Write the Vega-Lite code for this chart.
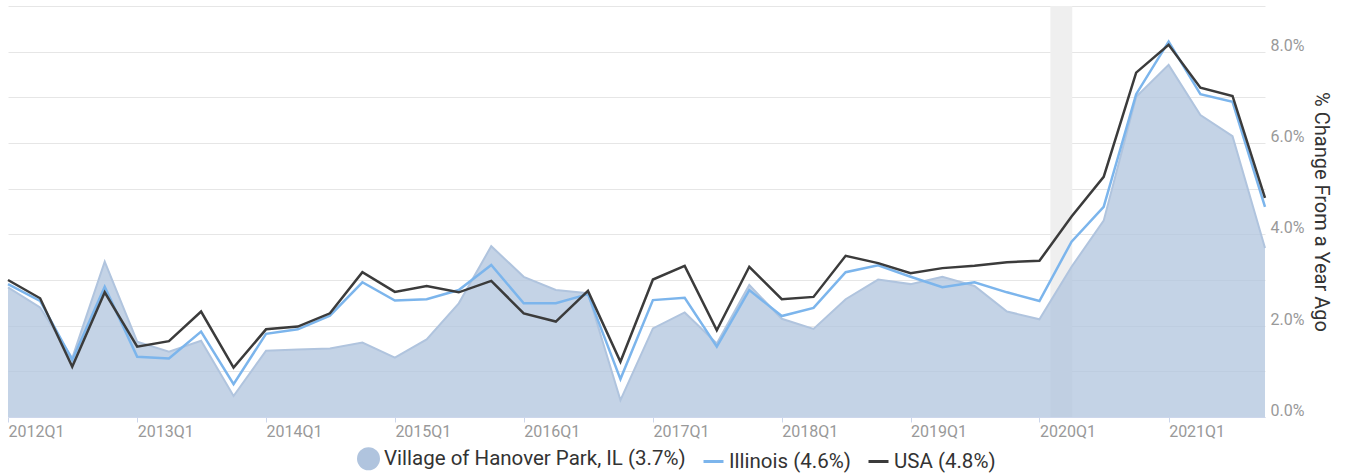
{
  "$schema": "https://vega.github.io/schema/vega-lite/v6.json",
  "width": 1257,
  "height": 411,
  "autosize": {"type": "none"},
  "padding": {"left": 8, "top": 6, "right": 83, "bottom": 56},
  "background": "white",
  "config": {"view": {"stroke": null}, "font": "Roboto"},
  "datasets": {
    "main": [
      {"date": "2012-01-01", "Village": 2.84, "Illinois": 2.91, "USA": 3.00},
      {"date": "2012-04-01", "Village": 2.40, "Illinois": 2.54, "USA": 2.60},
      {"date": "2012-07-01", "Village": 1.29, "Illinois": 1.25, "USA": 1.10},
      {"date": "2012-10-01", "Village": 3.40, "Illinois": 2.85, "USA": 2.73},
      {"date": "2013-01-01", "Village": 1.65, "Illinois": 1.32, "USA": 1.54},
      {"date": "2013-04-01", "Village": 1.43, "Illinois": 1.28, "USA": 1.66},
      {"date": "2013-07-01", "Village": 1.67, "Illinois": 1.87, "USA": 2.31},
      {"date": "2013-10-01", "Village": 0.46, "Illinois": 0.72, "USA": 1.08},
      {"date": "2014-01-01", "Village": 1.45, "Illinois": 1.82, "USA": 1.92},
      {"date": "2014-04-01", "Village": 1.48, "Illinois": 1.92, "USA": 1.98},
      {"date": "2014-07-01", "Village": 1.50, "Illinois": 2.22, "USA": 2.27},
      {"date": "2014-10-01", "Village": 1.63, "Illinois": 2.95, "USA": 3.17},
      {"date": "2015-01-01", "Village": 1.30, "Illinois": 2.55, "USA": 2.74},
      {"date": "2015-04-01", "Village": 1.70, "Illinois": 2.58, "USA": 2.87},
      {"date": "2015-07-01", "Village": 2.49, "Illinois": 2.78, "USA": 2.73},
      {"date": "2015-10-01", "Village": 3.74, "Illinois": 3.33, "USA": 2.98},
      {"date": "2016-01-01", "Village": 3.07, "Illinois": 2.49, "USA": 2.27},
      {"date": "2016-04-01", "Village": 2.78, "Illinois": 2.49, "USA": 2.09},
      {"date": "2016-07-01", "Village": 2.71, "Illinois": 2.69, "USA": 2.76},
      {"date": "2016-10-01", "Village": 0.37, "Illinois": 0.83, "USA": 1.21},
      {"date": "2017-01-01", "Village": 1.94, "Illinois": 2.56, "USA": 3.01},
      {"date": "2017-04-01", "Village": 2.29, "Illinois": 2.61, "USA": 3.31},
      {"date": "2017-07-01", "Village": 1.61, "Illinois": 1.54, "USA": 1.90},
      {"date": "2017-10-01", "Village": 2.89, "Illinois": 2.78, "USA": 3.29},
      {"date": "2018-01-01", "Village": 2.15, "Illinois": 2.21, "USA": 2.58},
      {"date": "2018-04-01", "Village": 1.93, "Illinois": 2.39, "USA": 2.63},
      {"date": "2018-07-01", "Village": 2.58, "Illinois": 3.17, "USA": 3.53},
      {"date": "2018-10-01", "Village": 3.01, "Illinois": 3.32, "USA": 3.37},
      {"date": "2019-01-01", "Village": 2.91, "Illinois": 3.07, "USA": 3.15},
      {"date": "2019-04-01", "Village": 3.07, "Illinois": 2.84, "USA": 3.26},
      {"date": "2019-07-01", "Village": 2.87, "Illinois": 2.95, "USA": 3.31},
      {"date": "2019-10-01", "Village": 2.31, "Illinois": 2.73, "USA": 3.39},
      {"date": "2020-01-01", "Village": 2.14, "Illinois": 2.54, "USA": 3.42},
      {"date": "2020-04-01", "Village": 3.29, "Illinois": 3.84, "USA": 4.39},
      {"date": "2020-07-01", "Village": 4.30, "Illinois": 4.60, "USA": 5.26},
      {"date": "2020-10-01", "Village": 7.01, "Illinois": 7.07, "USA": 7.54},
      {"date": "2021-01-01", "Village": 7.71, "Illinois": 8.22, "USA": 8.15},
      {"date": "2021-04-01", "Village": 6.61, "Illinois": 7.07, "USA": 7.21},
      {"date": "2021-07-01", "Village": 6.15, "Illinois": 6.90, "USA": 7.03},
      {"date": "2021-10-01", "Village": 3.70, "Illinois": 4.60, "USA": 4.80}
    ]
  },
  "layer": [
    {
      "data": {"values": [{"start": "2020-02-01", "end": "2020-04-03"}]},
      "mark": {"type": "rect", "color": "#efefef"},
      "encoding": {
        "x": {"field": "start", "type": "temporal", "scale": {"nice": false}},
        "x2": {"field": "end"}
      }
    },
    {
      "data": {"name": "main"},
      "transform": [
        {"fold": ["Village", "Illinois", "USA"], "as": ["series", "value"]},
        {"filter": "datum.series === 'Village'"}
      ],
      "mark": {"type": "area", "opacity": 0.75, "line": {"color": "#b0c4de", "strokeWidth": 2}},
      "encoding": {
        "x": {
          "field": "date", "type": "temporal", "scale": {"nice": false},
          "axis": {
            "values": [
              {"year": 2012, "month": 1, "date": 1}, {"year": 2013, "month": 1, "date": 1},
              {"year": 2014, "month": 1, "date": 1}, {"year": 2015, "month": 1, "date": 1},
              {"year": 2016, "month": 1, "date": 1}, {"year": 2017, "month": 1, "date": 1},
              {"year": 2018, "month": 1, "date": 1}, {"year": 2019, "month": 1, "date": 1},
              {"year": 2020, "month": 1, "date": 1}, {"year": 2021, "month": 1, "date": 1}
            ],
            "format": "%YQ1",
            "title": null,
            "grid": false,
            "labelAlign": "left",
            "labelFontSize": 16,
            "labelColor": "#999999",
            "labelFont": "Roboto",
            "tickColor": "#ccd6eb",
            "domainColor": "#ccd6eb",
            "tickSize": 5,
            "labelPadding": 1.5,
            "labelFlush": false,
            "labelOverlap": false
          }
        },
        "y": {
          "field": "value", "type": "quantitative",
          "scale": {"domain": [0, 9], "nice": false},
          "axis": {
            "orient": "right",
            "values": [0, 1, 2, 3, 4, 5, 6, 7, 8, 9],
            "labelExpr": "datum.value % 2 === 0 ? format(datum.value, '.1f') + '%' : ''",
            "grid": true,
            "gridColor": "#e6e6e6",
            "domain": false,
            "ticks": false,
            "labelPadding": 5,
            "labelAlign": "left",
            "labelBaseline": "alphabetic",
            "labelOffset": -1.5,
            "labelFontSize": 16,
            "labelColor": "#999999",
            "labelFont": "Roboto",
            "labelOverlap": false,
            "title": "% Change From a Year Ago",
            "titleFont": "Roboto",
            "titleFontSize": 20,
            "titleFontWeight": "normal",
            "titleColor": "#333333",
            "titlePadding": 7
          }
        },
        "color": {
          "field": "series", "type": "nominal",
          "scale": {"domain": ["Village", "Illinois", "USA"], "range": ["#b0c4de", "#7cb5ec", "#3b3b3b"]},
          "legend": {
            "title": null,
            "orient": "none",
            "legendX": 349,
            "legendY": 441,
            "padding": 0,
            "direction": "horizontal",
            "labelFont": "Roboto",
            "labelFontSize": 20.5,
            "labelColor": "#333333",
            "labelLimit": 500,
            "symbolSize": 400,
            "labelOffset": 4,
            "columnPadding": 11,
            "labelExpr": "datum.label === 'Village' ? 'Village of Hanover Park, IL (3.7%)' : datum.label === 'Illinois' ? 'Illinois (4.6%)' : 'USA (4.8%)'",
            "encode": {
              "symbols": {
                "update": {
                  "shape": {"signal": "datum.value === 'Village' ? 'circle' : 'stroke'"},
                  "fill": {"signal": "datum.value === 'Village' ? '#b0c4de' : 'transparent'"},
                  "stroke": {"signal": "datum.value === 'Illinois' ? '#7cb5ec' : datum.value === 'USA' ? '#3b3b3b' : 'transparent'"},
                  "strokeWidth": {"value": 3},
                  "opacity": {"value": 1},
                  "fillOpacity": {"value": 1},
                  "strokeOpacity": {"value": 1}
                }
              }
            }
          }
        }
      }
    },
    {
      "data": {"name": "main"},
      "transform": [
        {"fold": ["Illinois", "USA"], "as": ["series", "value"]}
      ],
      "mark": {"type": "line", "strokeWidth": 2.5},
      "encoding": {
        "x": {"field": "date", "type": "temporal"},
        "y": {"field": "value", "type": "quantitative"},
        "color": {"field": "series", "type": "nominal"}
      }
    }
  ]
}
